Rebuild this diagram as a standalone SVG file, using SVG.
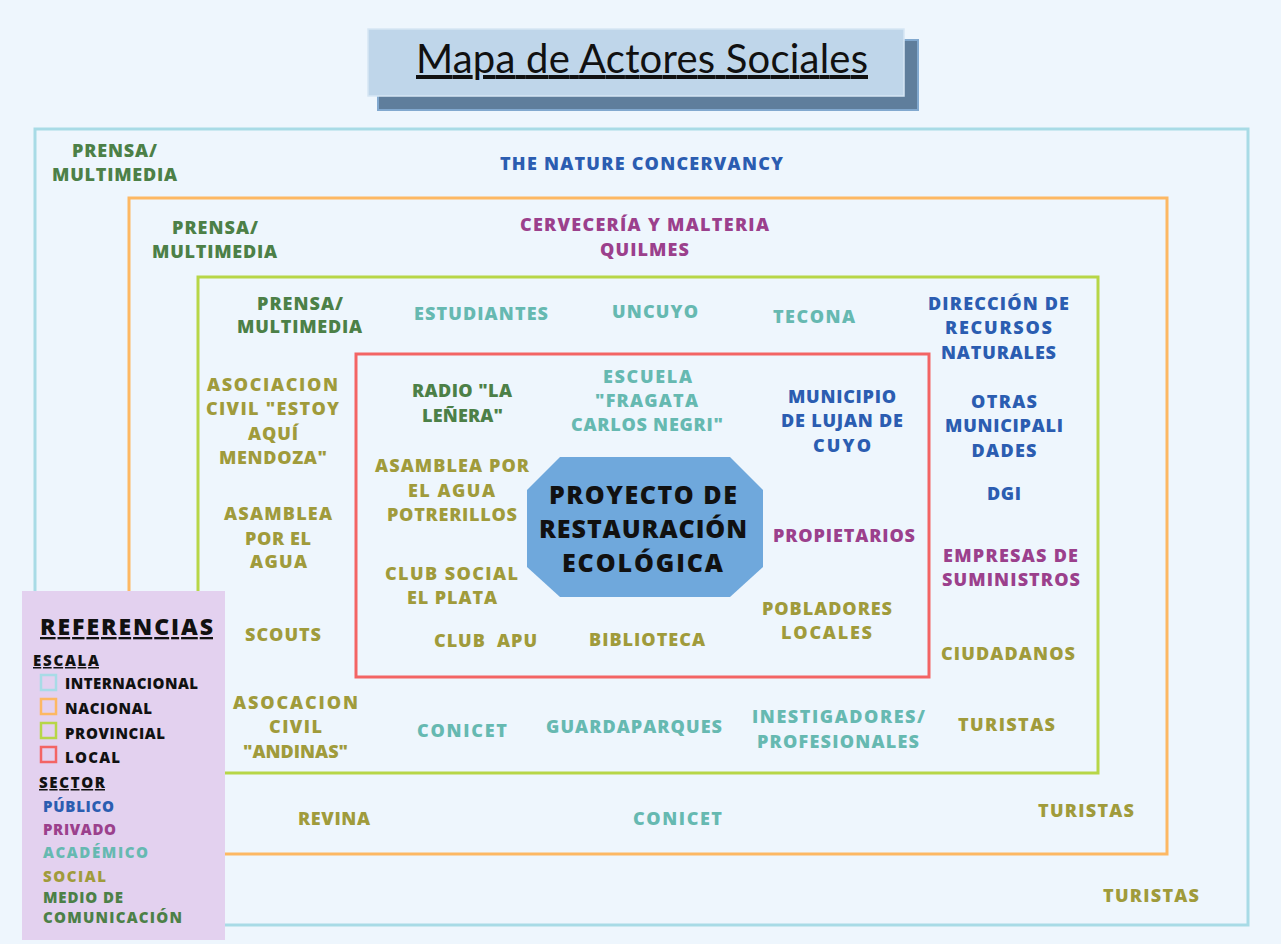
<svg xmlns="http://www.w3.org/2000/svg" width="1281" height="944" viewBox="0 0 1281 944">
<style>
text{font-family:"Open Sans","DejaVu Sans",sans-serif;font-weight:800;text-anchor:middle}
.l{font-size:18px}
.g{fill:#4c8047}
.b{fill:#2b5db1}
.p{fill:#9b408c}
.t{fill:#66b9b1}
.o{fill:#a09b3b}
.k{fill:#111}
.lg{font-size:15px;text-anchor:start}
.box{fill:none;stroke-width:3}
.sq{fill:none;stroke-width:2.5}
</style>
<rect x="0" y="0" width="1281" height="944" fill="#eef6fd"/>

<g id="title">
<rect x="378" y="40" width="540" height="70" fill="#5f7e9c" stroke="#82a9cf" stroke-width="2"/>
<rect x="368" y="29" width="536" height="67" fill="#bfd6ea" stroke="#d6e6f4" stroke-width="1.5"/>
<text x="642" y="73" textLength="452" style="font-family:Lato,'Liberation Sans',sans-serif;font-weight:400;font-size:40px;text-decoration:underline" fill="#111">Mapa de Actores Sociales</text>
</g>

<g id="scales">
<rect id="internacional" class="box" x="35" y="129" width="1213" height="796" stroke="#a8dbe6"/>
<rect id="nacional" class="box" x="129" y="198" width="1038" height="656" stroke="#fdb863"/>
<rect id="provincial" class="box" x="198" y="277" width="900" height="496" stroke="#b7d647"/>
<rect id="local" class="box" x="356" y="354" width="573" height="323" stroke="#f36464"/>
</g>

<g id="connectors"/>

<g id="centro">
<polygon points="560,457 730,457 763,490 763,567 730,597 560,597 527,567 527,490" fill="#6fa8dc"/>
<text class="k" x="643" y="504" textLength="188" style="font-size:25px">PROYECTO DE</text>
<text class="k" x="643" y="538" textLength="208" style="font-size:25px">RESTAURACIÓN</text>
<text class="k" x="642.5" y="572" textLength="161" style="font-size:25px">ECOLÓGICA</text>
</g>

<g id="prensa-int"><text class="l g" x="114.5" y="157" textLength="85">PRENSA/</text><text class="l g" x="114.5" y="181" textLength="125">MULTIMEDIA</text></g>
<g id="tnc"><text class="l b" x="641.5" y="170" textLength="283">THE NATURE CONCERVANCY</text></g>
<g id="turistas-int"><text class="l o" x="1151" y="902" textLength="96">TURISTAS</text></g>

<g id="prensa-nac"><text class="l g" x="215" y="234" textLength="86">PRENSA/</text><text class="l g" x="214.5" y="258" textLength="125">MULTIMEDIA</text></g>
<g id="quilmes"><text class="l p" x="644.5" y="231" textLength="249">CERVECERÍA Y MALTERIA</text><text class="l p" x="644.5" y="256" textLength="89">QUILMES</text></g>
<g id="revina"><text class="l o" x="334" y="825" textLength="72">REVINA</text></g>
<g id="conicet-nac"><text class="l t" x="677.5" y="825" textLength="89">CONICET</text></g>
<g id="turistas-nac"><text class="l o" x="1086" y="817" textLength="96">TURISTAS</text></g>

<g id="prensa-prov"><text class="l g" x="300" y="310" textLength="86">PRENSA/</text><text class="l g" x="299.5" y="333" textLength="125">MULTIMEDIA</text></g>
<g id="estudiantes"><text class="l t" x="481" y="320" textLength="134">ESTUDIANTES</text></g>
<g id="uncuyo"><text class="l t" x="655" y="318" textLength="86">UNCUYO</text></g>
<g id="tecona"><text class="l t" x="814" y="323" textLength="82">TECONA</text></g>
<g id="direccion"><text class="l b" x="998.5" y="310" textLength="141">DIRECCIÓN DE</text><text class="l b" x="998.5" y="334" textLength="107">RECURSOS</text><text class="l b" x="998.5" y="359" textLength="115">NATURALES</text></g>
<g id="estoy-aqui"><text class="l o" x="272.5" y="391" textLength="131">ASOCIACION</text><text class="l o" x="272.5" y="415" textLength="133">CIVIL "ESTOY</text><text class="l o" x="273" y="440" textLength="50">AQUÍ</text><text class="l o" x="273" y="464" textLength="108">MENDOZA"</text></g>
<g id="otras-muni"><text class="l b" x="1004" y="408" textLength="66">OTRAS</text><text class="l b" x="1004" y="432" textLength="118">MUNICIPALI</text><text class="l b" x="1004" y="457" textLength="65">DADES</text></g>
<g id="dgi"><text class="l b" x="1004" y="500" textLength="34">DGI</text></g>
<g id="asamblea-agua"><text class="l o" x="278" y="520" textLength="108">ASAMBLEA</text><text class="l o" x="278" y="545" textLength="66">POR EL</text><text class="l o" x="278.5" y="568" textLength="57">AGUA</text></g>
<g id="empresas"><text class="l p" x="1010.5" y="562" textLength="135">EMPRESAS DE</text><text class="l p" x="1011" y="586" textLength="138">SUMINISTROS</text></g>
<g id="scouts"><text class="l o" x="283" y="641" textLength="76">SCOUTS</text></g>
<g id="ciudadanos"><text class="l o" x="1008" y="660" textLength="134">CIUDADANOS</text></g>
<g id="andinas"><text class="l o" x="295.5" y="709" textLength="125">ASOCACION</text><text class="l o" x="295.5" y="733" textLength="53">CIVIL</text><text class="l o" x="295.5" y="758" textLength="105">"ANDINAS"</text></g>
<g id="conicet-prov"><text class="l t" x="462" y="737" textLength="90">CONICET</text></g>
<g id="guardaparques"><text class="l t" x="634" y="733" textLength="176">GUARDAPARQUES</text></g>
<g id="investigadores"><text class="l t" x="838.5" y="723" textLength="173">INESTIGADORES/</text><text class="l t" x="838" y="748" textLength="162">PROFESIONALES</text></g>
<g id="turistas-prov"><text class="l o" x="1006.5" y="731" textLength="97">TURISTAS</text></g>

<g id="radio"><text class="l g" x="462" y="397" textLength="100">RADIO "LA</text><text class="l g" x="462.5" y="422" textLength="81">LEÑERA"</text></g>
<g id="escuela"><text class="l t" x="647.5" y="383" textLength="89">ESCUELA</text><text class="l t" x="646.5" y="407" textLength="103">"FRAGATA</text><text class="l t" x="647" y="431" textLength="152">CARLOS NEGRI"</text></g>
<g id="municipio"><text class="l b" x="842" y="403" textLength="108">MUNICIPIO</text><text class="l b" x="842" y="427" textLength="122">DE LUJAN DE</text><text class="l b" x="842" y="452" textLength="58">CUYO</text></g>
<g id="asamblea-potrerillos"><text class="l o" x="452" y="472" textLength="154">ASAMBLEA POR</text><text class="l o" x="451.5" y="497" textLength="87">EL AGUA</text><text class="l o" x="452" y="521" textLength="130">POTRERILLOS</text></g>
<g id="propietarios"><text class="l p" x="844" y="542" textLength="142">PROPIETARIOS</text></g>
<g id="club-social"><text class="l o" x="451.5" y="580" textLength="133">CLUB SOCIAL</text><text class="l o" x="452" y="604" textLength="90">EL PLATA</text></g>
<g id="pobladores"><text class="l o" x="827" y="615" textLength="130">POBLADORES</text><text class="l o" x="826.5" y="639" textLength="91">LOCALES</text></g>
<g id="club-apu"><text class="l o" x="485.5" y="647" textLength="103" xml:space="preserve">CLUB  APU</text></g>
<g id="biblioteca"><text class="l o" x="647" y="646" textLength="116">BIBLIOTECA</text></g>

<g id="referencias">
<rect x="22" y="591" width="203" height="349" fill="#e3d1ef"/>
<text class="k" x="40" y="635" textLength="173" style="font-size:23px;text-anchor:start;text-decoration:underline">REFERENCIAS</text>
<text class="k lg" x="33" y="666" textLength="66" style="text-decoration:underline">ESCALA</text>
<rect class="sq" x="41" y="675" width="15" height="15" stroke="#a8dbe6"/>
<rect class="sq" x="41" y="699" width="15" height="15" stroke="#fdb863"/>
<rect class="sq" x="41" y="723" width="15" height="15" stroke="#b7d647"/>
<rect class="sq" x="41" y="747" width="15" height="15" stroke="#f36464"/>
<text class="k lg" x="65" y="689" textLength="133">INTERNACIONAL</text>
<text class="k lg" x="65" y="714" textLength="87">NACIONAL</text>
<text class="k lg" x="65" y="739" textLength="100">PROVINCIAL</text>
<text class="k lg" x="65" y="763" textLength="55">LOCAL</text>
<text class="k lg" x="39" y="788" textLength="66" style="text-decoration:underline">SECTOR</text>
<text class="b lg" x="43" y="812" textLength="71">PÚBLICO</text>
<text class="p lg" x="43" y="835" textLength="73">PRIVADO</text>
<text class="t lg" x="43" y="858" textLength="105">ACADÉMICO</text>
<text class="o lg" x="43" y="882" textLength="63">SOCIAL</text>
<text class="g lg" x="43" y="903" textLength="80">MEDIO DE</text>
<text class="g lg" x="43" y="923" textLength="139">COMUNICACIÓN</text>
</g>
</svg>
